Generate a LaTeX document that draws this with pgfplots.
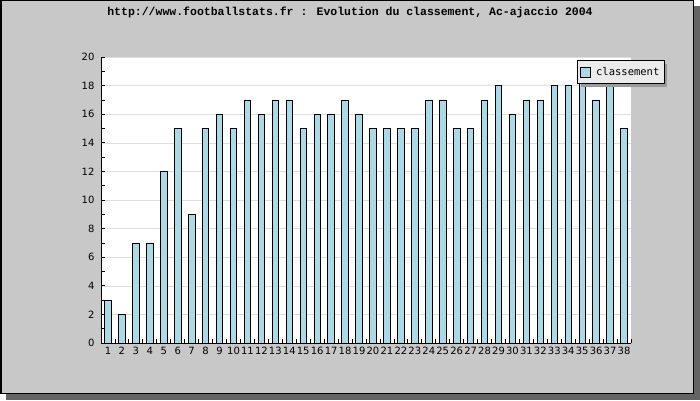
\documentclass[border=0pt]{standalone}
\usepackage{pgfplots}
\pgfplotsset{compat=1.18}
\usepackage{fontspec}
\setmainfont{DejaVu Sans}
\newfontfamily\monofont{Liberation Mono}
\newfontfamily\legfont{DejaVu Sans Mono}
\definecolor{bggray}{HTML}{C8C8C8}
\definecolor{shadowgray}{HTML}{646464}
\definecolor{legshadow}{HTML}{9A9A9A}
\definecolor{barblue}{HTML}{ADD8E6}
\definecolor{gridgray}{HTML}{DDDDDD}
\definecolor{legfill}{HTML}{EBEBEB}

\pgfplotstableread{
x y
1 3
2 2
3 7
4 7
5 12
6 15
7 9
8 15
9 16
10 15
11 17
12 16
13 17
14 17
15 15
16 16
17 16
18 17
19 16
20 15
21 15
22 15
23 15
24 17
25 17
26 15
27 15
28 17
29 18
30 16
31 17
32 17
33 18
34 18
35 19
36 17
37 18
38 15
}\classement

\begin{document}
\begin{tikzpicture}
\useasboundingbox (0pt,0pt) rectangle (700pt,400pt);
% frame with shadow
\fill[shadowgray] (6pt,0pt) rectangle (700pt,394pt);
\fill[bggray] (0pt,6pt) rectangle (694pt,400pt);
\draw[black, line width=1.5pt] (0.75pt,6.75pt) rectangle (693.25pt,399.25pt);
\node[font=\monofont\bfseries\fontsize{11.5}{12}\selectfont] at (350pt,388pt)
  {http://www.footballstats.fr : Evolution du classement, Ac-ajaccio 2004};
\begin{axis}[
    at={(101pt,57pt)}, anchor=south west,
    scale only axis, width=530pt, height=286pt,
    clip=false,
    ybar, bar width=6.5pt,
    xmin=0.5, xmax=38.5, ymin=0, ymax=20,
    axis background/.style={fill=white},
    axis x line*=bottom, axis y line*=left,
    axis line style={-, line width=1pt},
    xtick=data,
    minor xtick={0.5,1.5,...,38.5},
    major x tick style={draw=none},
    minor x tick style={line width=0.8pt, black},
    ytick={0,2,...,20},
    minor ytick={1,3,...,19},
    ymajorgrids, grid style={gridgray, line width=0.6pt},
    tick style={line width=0.8pt, black},
    tick align=inside,
    major tick length=4pt, minor tick length=4pt,
    /pgf/number format/assume math mode=true,
    tick label style={font=\fontsize{10}{11}\selectfont},
    xticklabel style={inner sep=1pt, yshift=-3pt},
    yticklabel style={xshift=-3pt},
    legend style={at={(0.898,0.99)}, anchor=north west, draw=black, fill=legfill,
      line width=0.8pt, font=\legfont\fontsize{10.5}{11}\selectfont,
      inner xsep=3pt, inner ysep=5pt},
    legend image code/.code={\draw[#1, line width=0.8pt] (0pt,-5pt) rectangle (10pt,5pt);},
]
\addplot[draw=black, fill=barblue, line width=0.8pt] table[x=x, y=y] {\classement};
\legend{\hspace*{3pt}classement}
% legend shadow
\fill[legshadow] ([xshift=4pt,yshift=-4pt]rel axis cs:0.898,0.99) rectangle ++(86pt,-23pt);
\end{axis}
\end{tikzpicture}
\end{document}
